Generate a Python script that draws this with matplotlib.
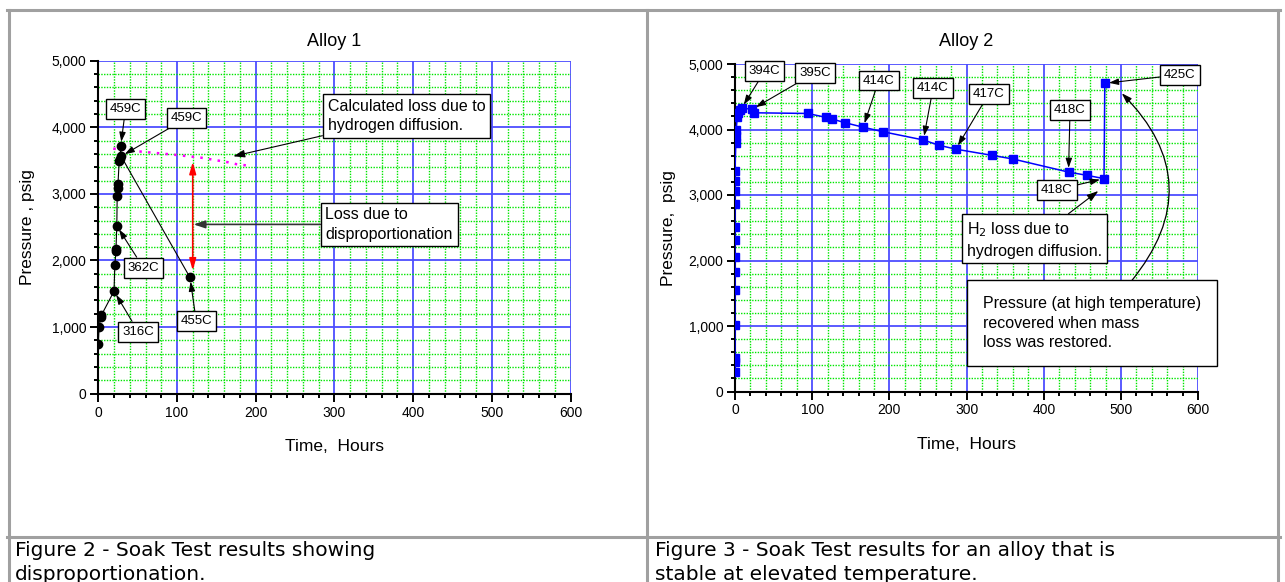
import matplotlib
matplotlib.use('Agg')
import matplotlib.pyplot as plt
from matplotlib.ticker import MultipleLocator, StrMethodFormatter
from matplotlib.lines import Line2D

plt.rcParams['font.family'] = ['Liberation Sans', 'DejaVu Sans']

# Alloy 1 - soak test with disproportionation (hours, psig)
alloy1_time = [0, 1, 3, 4, 20, 21, 22.5, 22.5, 23.5, 24, 25, 25, 26.5, 27.5, 28.5, 29, 116.5]
alloy1_press = [740, 1000, 1150, 1180, 1540, 1935, 2140, 2180, 2520, 2965, 3095, 3145,
                3490, 3530, 3720, 3565, 1745]

# calculated loss due to hydrogen diffusion (magenta dotted)
calc_time = [19, 45, 95, 130, 165, 176, 194]
calc_press = [3680, 3645, 3590, 3545, 3475, 3445, 3420]

# Alloy 2 - stable alloy
alloy2_time = [0, 0, 0, 0, 0, 0, 0, 0, 0, 0, 0, 0, 0, 1, 1.5, 1.5, 3, 4.5, 6.5, 8.5,
               22.5, 25, 94, 118, 126, 142, 166, 192, 244, 264, 286, 333, 360, 432, 456, 478, 479]
alloy2_press = [300, 455, 515, 1015, 1550, 1820, 2060, 2310, 2505, 2865, 3060, 3215, 3365,
                3790, 3900, 3990, 4195, 4255, 4300, 4325, 4310, 4255, 4245, 4185, 4160, 4105,
                4035, 3965, 3840, 3760, 3700, 3605, 3550, 3350, 3300, 3250, 4705]

# temperature labels: (text, point x, point y, label x, label y)
alloy1_labels = [
    ('459C', 28.5, 3720, 34.6, 4278),
    ('459C', 29, 3565, 112.3, 4138),
    ('362C', 23.5, 2520, 57.2, 1893),
    ('316C', 20, 1540, 50.8, 930),
    ('455C', 116.5, 1745, 124.5, 1086),
]
alloy2_labels = [
    ('394C', 8.5, 4325, 38.5, 4890),
    ('395C', 22.5, 4310, 103.6, 4867),
    ('414C', 166, 4035, 186.3, 4748),
    ('414C', 244, 3840, 256.5, 4629),
    ('417C', 286, 3700, 328.8, 4545),
    ('418C', 432, 3350, 434, 4302),
    ('418C', 478, 3250, 416.7, 3081),
    ('425C', 479, 4705, 576.4, 4837),
]

captions = ['Figure 2 - Soak Test results showing\ndisproportionation.',
            'Figure 3 - Soak Test results for an alloy that is\nstable at elevated temperature.']

W, H = 1285, 582
fig = plt.figure(figsize=(W / 100, H / 100), dpi=100)


def fx(px):
    return px / W


def fy(py):
    return 1 - py / H


def setup(ax, title, ylabel, title_pad, ylabel_pad):
    ax.set_xlim(0, 600)
    ax.set_ylim(0, 5000)
    ax.xaxis.set_major_locator(MultipleLocator(100))
    ax.xaxis.set_minor_locator(MultipleLocator(20))
    ax.yaxis.set_major_locator(MultipleLocator(1000))
    ax.yaxis.set_minor_locator(MultipleLocator(200))
    ax.yaxis.set_major_formatter(StrMethodFormatter('{x:,.0f}'))
    ax.grid(which='major', color=(0.3, 0.3, 1.0), lw=1.3)
    ax.grid(which='minor', color='#00e600', lw=1.0, ls=(0, (1, 1)))
    ax.set_axisbelow(True)
    for s in ['top', 'right']:
        ax.spines[s].set_visible(False)
    for s in ['left', 'bottom']:
        ax.spines[s].set_linewidth(1.5)
    ax.tick_params(which='major', direction='out', length=6, width=1.4, labelsize=10, pad=2.5)
    ax.tick_params(which='minor', direction='out', length=3, width=1.4)
    ax.set_title(title, fontsize=13, pad=title_pad)
    ax.set_xlabel('Time,  Hours', fontsize=12.5, labelpad=14)
    ax.set_ylabel(ylabel, fontsize=12.5, labelpad=ylabel_pad)


box = dict(boxstyle='square,pad=0.3', fc='white', ec='black', lw=1)
arrow = dict(arrowstyle='-|>,head_length=0.6,head_width=0.2', color='black', lw=0.8,
             shrinkA=0, shrinkB=3)

# ---- Alloy 1
ax1 = fig.add_axes([fx(98.3), fy(393.7), (570.5 - 98.3) / W, (393.7 - 60.7) / H])
setup(ax1, 'Alloy 1', 'Pressure , psig', 10.5, 12)
ax1.plot(calc_time, calc_press, color='#ff00ff', lw=1.8, ls=(0, (1, 2.5)), zorder=2)
ax1.plot(alloy1_time, alloy1_press, color='black', lw=0.8, marker='o', ms=6,
         mfc='black', mec='black', zorder=3)
for txt, x, y, tx, ty in alloy1_labels:
    ax1.annotate(txt, xy=(x, y), xytext=(tx, ty), fontsize=9.5, ha='center', va='center',
                 bbox=box, arrowprops=arrow, zorder=5)

ax1.annotate('Calculated loss due to\nhydrogen diffusion.', xy=(171.5, 3565), xytext=(391.6, 4165),
             fontsize=11.5, ha='center', va='center', multialignment='left', linespacing=1.35,
             bbox=box, arrowprops=dict(arrow, shrinkB=0), zorder=5)
ax1.annotate('', xy=(120, 3480), xytext=(120, 1850),
             arrowprops=dict(arrowstyle='<|-|>,head_length=0.7,head_width=0.2', color='red',
                             lw=1.2, shrinkA=0, shrinkB=0), zorder=4)
ax1.annotate('Loss due to\ndisproportionation', xy=(121, 2542), xytext=(369.6, 2542),
             fontsize=11.5, ha='center', va='center', multialignment='left', linespacing=1.35,
             bbox=box, arrowprops=dict(arrow, color='#333333', lw=1.2, shrinkB=0), zorder=5)

# ---- Alloy 2
ax2 = fig.add_axes([fx(735), fy(391.5), (1198.2 - 735) / W, (391.5 - 64) / H])
setup(ax2, 'Alloy 2', 'Pressure,  psig', 13, 9)
ax2.plot(alloy2_time, alloy2_press, color='blue', lw=1.1, marker='s', ms=5.5,
         mfc='blue', mec='blue', zorder=3)
for txt, x, y, tx, ty in alloy2_labels:
    ax2.annotate(txt, xy=(x, y), xytext=(tx, ty), fontsize=9.5, ha='center', va='center',
                 bbox=box, arrowprops=arrow, zorder=5)

ax2.annotate('H$_2$ loss due to\nhydrogen diffusion.', xy=(470.6, 3061), xytext=(387.9, 2318),
             fontsize=11.5, ha='center', va='center', multialignment='left', linespacing=1.35,
             bbox=box, arrowprops=dict(arrow, shrinkB=0), zorder=5)
ax2.annotate('Pressure (at high temperature)\nrecovered when mass\nloss was restored.',
             xy=(462.7, 1044), xytext=(462.7, 1044), fontsize=11.5, ha='center', va='center',
             multialignment='left', linespacing=1.35,
             bbox=dict(box, boxstyle='square,pad=1.0'), zorder=5)
ax2.annotate('', xy=(501, 4553), xytext=(513, 1679),
             arrowprops=dict(arrowstyle='-|>,head_length=0.6,head_width=0.2', color='black',
                             lw=0.9, shrinkA=0, shrinkB=0, connectionstyle='arc3,rad=0.45',
                             mutation_scale=10), zorder=4)

# ---- table frame and captions
frame = '#a0a0a0'
for xs, ys in [((7, 1280), (9.5, 9.5)), ((8.5, 8.5), (9.5, 582)), ((646.7, 646.7), (9.5, 582)),
               ((1278, 1278), (9.5, 582)), ((7, 1280), (537, 537))]:
    fig.add_artist(Line2D([fx(v) for v in xs], [fy(v) for v in ys], color=frame, lw=2.2))

for left, cap in zip([15, 655], captions):
    fig.text(fx(left), fy(541.5), cap, fontsize=14.5, va='top', ha='left', linespacing=1.3,
             family=['DejaVu Sans'])

fig.savefig('out.png', dpi=100)
